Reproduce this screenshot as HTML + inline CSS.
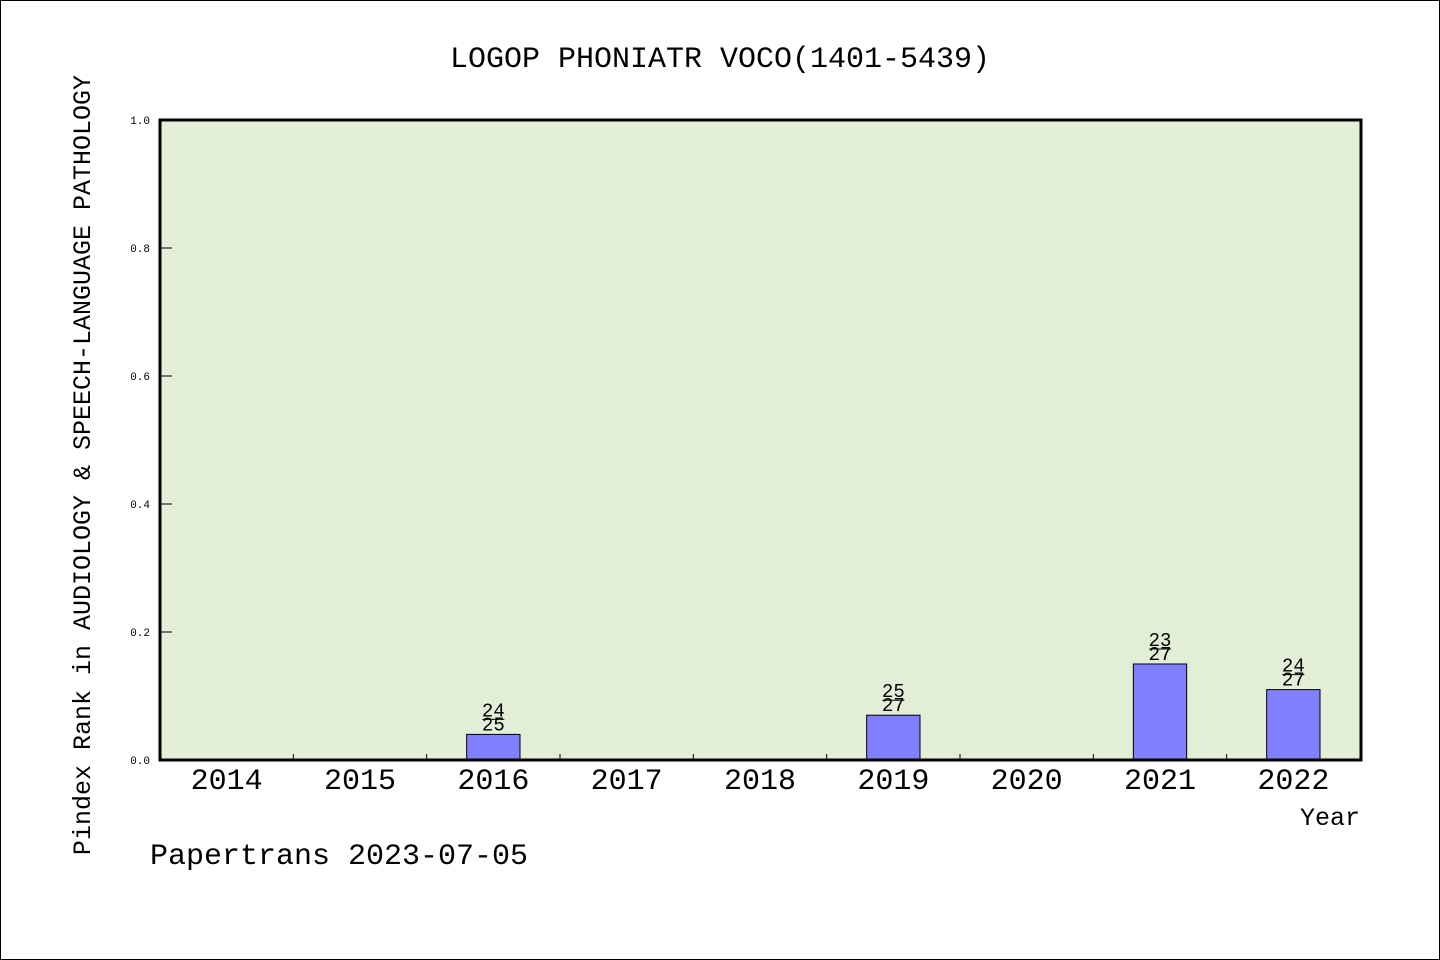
<!DOCTYPE html>
<html><head><meta charset="utf-8"><style>
body{margin:0;background:#fff}
svg{display:block;font-family:"Liberation Mono","DejaVu Sans Mono",monospace}
</style></head><body>
<svg id="chart" width="1440" height="960">
<rect x="0.5" y="0.5" width="1439" height="959" fill="#fff" stroke="#000"/>
<text x="720" y="67" font-size="30" text-anchor="middle">LOGOP PHONIATR VOCO(1401-5439)</text>
<rect x="160" y="120" width="1201" height="640" fill="#e2efd6"/>
<g id="ticks"></g>
<g id="bars"></g>
<rect x="160" y="120" width="1201" height="640" fill="none" stroke="#000" stroke-width="3"/>
<text transform="translate(90,465) rotate(-90)" font-size="25" text-anchor="middle">Pindex Rank in AUDIOLOGY &amp; SPEECH-LANGUAGE PATHOLOGY</text>
<text x="1360" y="825" font-size="25" text-anchor="end">Year</text>
<text x="150" y="864" font-size="30">Papertrans 2023-07-05</text>
</svg>
<script>
const years=["2014","2015","2016","2017","2018","2019","2020","2021","2022"];
const values=[0,0,0.04,0,0,0.07,0,0.15,0.11];
const ranks=[null,null,24,null,null,25,null,23,24];
const totals=[null,null,25,null,null,27,null,27,27];
const yTicks=[0,0.2,0.4,0.6,0.8,1.0];
const ns="http://www.w3.org/2000/svg";
const X0=160,X1=1360,Y0=760,Y1=120;
const band=(X1-X0)/years.length;
const xc=i=>X0+band*(i+0.5);
const y=v=>Y0-(v)*(Y0-Y1);
function mk(t,a,p){const e=document.createElementNS(ns,t);for(const k in a)e.setAttribute(k,a[k]);p.appendChild(e);return e;}
const tg=document.getElementById('ticks'),bg=document.getElementById('bars');
yTicks.forEach(v=>{
 const l=mk('line',{x1:X0,x2:X0+12,y1:y(v),y2:y(v),stroke:'#000'},tg);
 
 
 const t=mk('text',{x:X0-10,y:y(v)+4,'font-size':11,'text-anchor':'end'},tg);
 t.textContent=v.toFixed(1);
 
 
});
years.forEach((yr,i)=>{
 if(i>0){const l=mk('line',{x1:X0+band*i,x2:X0+band*i,y1:Y0,y2:Y0-6,stroke:'#000'},tg);
 
 }
 const t=mk('text',{x:xc(i),y:789,'font-size':30,'text-anchor':'middle'},tg);
 t.textContent=yr;
 
 
 if(values[i]>0){
  const w=band*0.4;
  const r=mk('rect',{x:xc(i)-w/2,y:y(values[i]),width:w,height:Y0-y(values[i]),fill:'#8080ff',stroke:'#000'},bg);
  
  
  const ty=y(values[i]);
  const a=mk('text',{x:xc(i),y:ty-18,'font-size':19,'text-anchor':'middle'},bg);
  a.textContent=ranks[i];
  
  
  const ln=mk('line',{x1:xc(i)-11,x2:xc(i)+11,y1:ty-15,y2:ty-15,stroke:'#000'},bg);
  
  
  const b=mk('text',{x:xc(i),y:ty-4,'font-size':19,'text-anchor':'middle'},bg);
  b.textContent=totals[i];
  
  
 }
});
</script>
</body></html>
